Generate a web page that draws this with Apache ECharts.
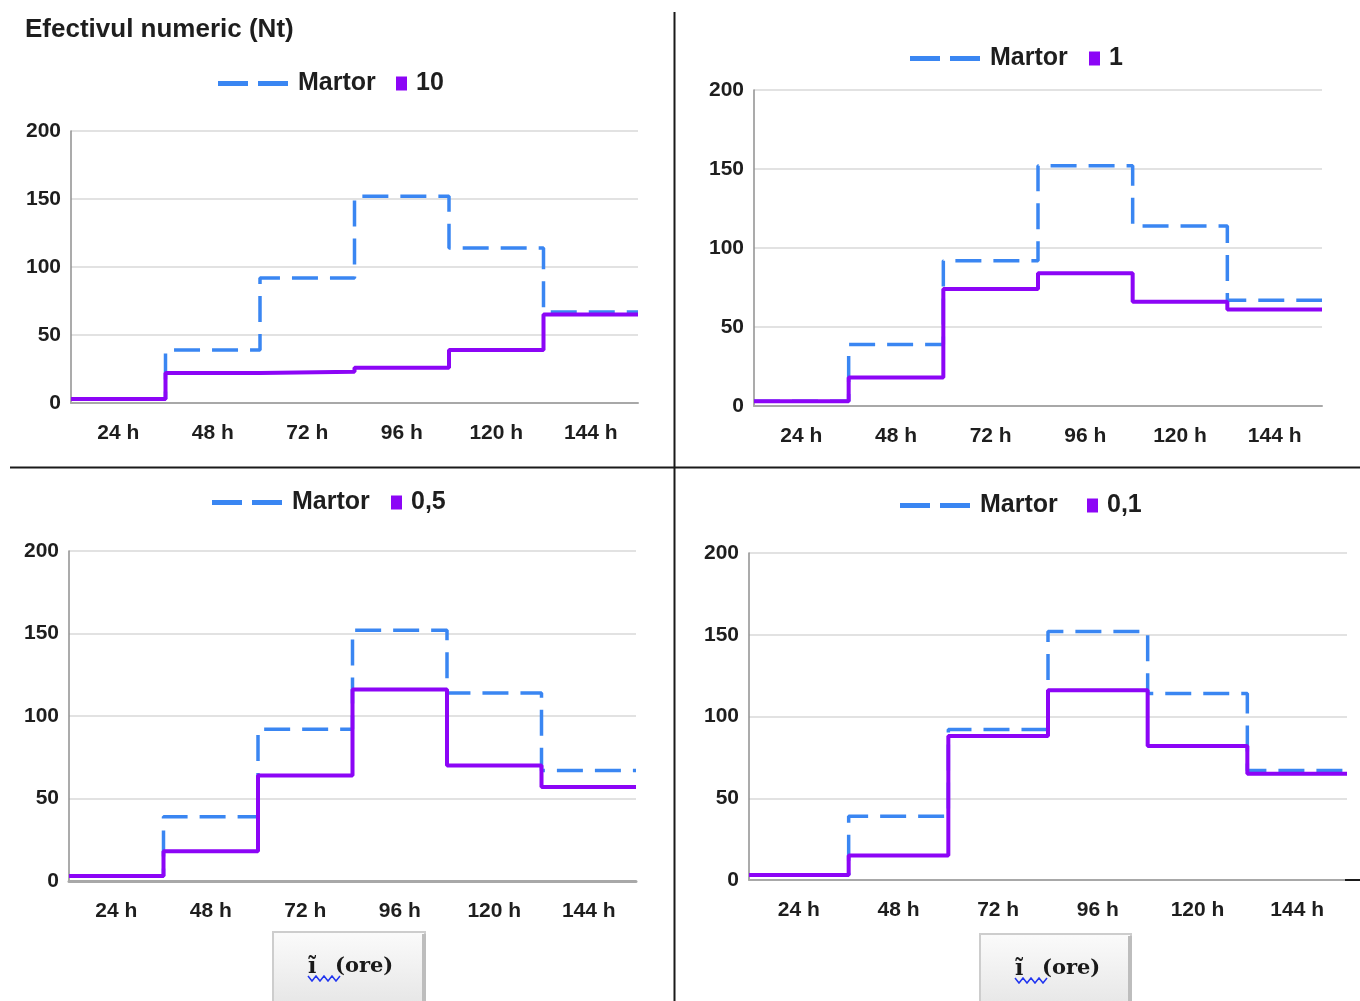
<!DOCTYPE html>
<html><head><meta charset="utf-8">
<script src="https://cdn.jsdelivr.net/npm/echarts@6/dist/echarts.min.js"></script>
<style>html,body{margin:0;padding:0;background:#fff}#c{width:1360px;height:1001px}</style>
</head><body><div id="c"></div>
<script>
// ---- data ----
const categories = ['24 h', '48 h', '72 h', '96 h', '120 h', '144 h'];
const yTickMin = 0, yTickMax = 200, yTickStep = 50;
const martor = [3, 39, 92, 152, 114, 67];
const conc10 = [3, 22, 23, 26, 39, 65];
const conc1 = [3, 18, 74, 84, 66, 61];
const conc05 = [3, 18, 64, 116, 70, 57];
const conc01 = [3, 15, 88, 116, 82, 65];
const seriesNames = ['10', '1', '0,5', '0,1'];
const seriesValues = [conc10, conc1, conc05, conc01];
const titleText = 'Efectivul numeric (Nt)';
const buttonLetter = 'ĩ';
const buttonWord = '(ore)';

// ---- layout ----
const grids = [
  {left: 71, top: 131, width: 567, height: 272},
  {left: 754, top: 90, width: 568, height: 316},
  {left: 69, top: 551, width: 567, height: 330},
  {left: 749, top: 553, width: 598, height: 327}
];
const legendPos = [
  {dash: 218, sq: 396, y: 81},
  {dash: 910, sq: 1089, y: 56},
  {dash: 212, sq: 391, y: 500},
  {dash: 900, sq: 1087, y: 503}
];
const BLUE = '#3a86f2', PURPLE = '#8c05f6', TXT = '#1e1e1e';
const FONT = "'Liberation Sans', Arial, sans-serif";

function stepData(vals) {
  const d = vals.map((v, i) => [i, v]);
  d.push([vals.length, vals[vals.length - 1]]);
  return d;
}

const option = {
  animation: false,
  backgroundColor: '#fff',
  title: {text: titleText, left: 25, top: 17, padding: 0,
    textStyle: {fontFamily: FONT, fontSize: 26, fontWeight: 'bold', color: TXT}},
  grid: [], xAxis: [], yAxis: [], series: [], legend: [], graphic: []
};

grids.forEach((g, i) => {
  option.grid.push(Object.assign({containLabel: false}, g));
  option.xAxis.push({
    type: 'category', gridIndex: i, data: categories, boundaryGap: true,
    axisLine: {show: true, lineStyle: {color: '#a8a8a8', width: i === 2 ? 3 : 2}},
    axisTick: {show: false},
    axisLabel: {fontFamily: FONT, fontSize: 21, fontWeight: 'bold', color: TXT, margin: 20},
    splitLine: {show: false}
  });
  option.xAxis.push({type: 'value', gridIndex: i, min: 0, max: categories.length, show: false});
  option.yAxis.push({
    type: 'value', gridIndex: i, min: yTickMin, max: yTickMax, interval: yTickStep,
    axisLine: {show: true, lineStyle: {color: '#8f8f8f', width: 1.5}},
    axisTick: {show: false},
    axisLabel: {fontFamily: FONT, fontSize: 21, fontWeight: 'bold', color: TXT, margin: 10},
    splitLine: {show: true, lineStyle: {color: '#e2e2e2', width: 2}}
  });
  option.series.push({
    name: 'Martor', type: 'line', xAxisIndex: 2 * i + 1, yAxisIndex: i, step: 'end',
    data: stepData(martor), symbol: 'none', z: 2,
    lineStyle: {color: BLUE, width: 3.5, type: [26, 12]}, itemStyle: {color: BLUE}
  });
  option.series.push({
    name: seriesNames[i], type: 'line', xAxisIndex: 2 * i + 1, yAxisIndex: i, step: 'end',
    data: stepData(seriesValues[i]), symbol: 'none', z: 3,
    lineStyle: {color: PURPLE, width: 4}, itemStyle: {color: PURPLE}
  });
  const lp = legendPos[i];
  option.legend.push({
    data: [{name: 'Martor', icon: 'path://M0,0H30V5H0Z M40,0H70V5H40Z'}],
    left: lp.dash, top: lp.y - 10, padding: 0, itemWidth: 70, itemHeight: 5,
    selectedMode: false,
    textStyle: {fontFamily: FONT, fontSize: 25, fontWeight: 'bold', color: TXT, padding: [0, 0, 0, 5]}
  });
  option.legend.push({
    data: [{name: seriesNames[i], icon: 'rect'}],
    left: lp.sq, top: lp.y - 10, padding: 0, itemWidth: 11, itemHeight: 14,
    selectedMode: false,
    textStyle: {fontFamily: FONT, fontSize: 25, fontWeight: 'bold', color: TXT, padding: [0, 0, 0, 4]}
  });
});

// dividers
option.graphic.push({type: 'line', shape: {x1: 674.5, y1: 12, x2: 674.5, y2: 1001}, style: {stroke: '#1a1a1a', lineWidth: 2}, z: 10});
option.graphic.push({type: 'line', shape: {x1: 10, y1: 467.5, x2: 1360, y2: 467.5}, style: {stroke: '#1a1a1a', lineWidth: 2}, z: 10});
option.graphic.push({type: 'line', shape: {x1: 1345, y1: 880, x2: 1360, y2: 880}, style: {stroke: '#1a1a1a', lineWidth: 2}, z: 10});

// buttons
function button(x, y, w) {
  const pts = [];
  for (let k = 0; k <= 8; k++) pts.push([x + 35 + k * 4, y + 44 + (k % 2 ? 5 : 0)]);
  return {
    type: 'group', z: 20, children: [
      {type: 'rect', shape: {x: x, y: y, width: w, height: 80},
        style: {fill: new echarts.graphic.LinearGradient(0, 0, 0, 1, [{offset: 0, color: '#fbfbfb'}, {offset: 1, color: '#e4e4e4'}]),
          stroke: '#cdcdcd', lineWidth: 2}},
      {type: 'rect', shape: {x: x + w - 3, y: y + 2, width: 4, height: 78}, style: {fill: '#bdbdbd'}},
      {type: 'text', style: {text: buttonLetter, x: x + 35, y: y + 35, font: "bold 22px 'DejaVu Serif', serif",
        fill: '#1a1a1a', align: 'left', verticalAlign: 'middle', textAlign: 'left', textVerticalAlign: 'middle'}},
      {type: 'text', style: {text: buttonWord, x: x + 62, y: y + 35, font: "bold 21px 'DejaVu Serif', serif",
        fill: '#1a1a1a', align: 'left', verticalAlign: 'middle', textAlign: 'left', textVerticalAlign: 'middle'}},
      {type: 'polyline', shape: {points: pts}, style: {stroke: '#2236f0', lineWidth: 1.5, fill: null}}
    ]
  };
}
option.graphic.push(button(273, 932, 152));
option.graphic.push(button(980, 934, 151));

const chart = echarts.init(document.getElementById('c'), null, {renderer: 'canvas'});
chart.setOption(option);
</script>
</body></html>
